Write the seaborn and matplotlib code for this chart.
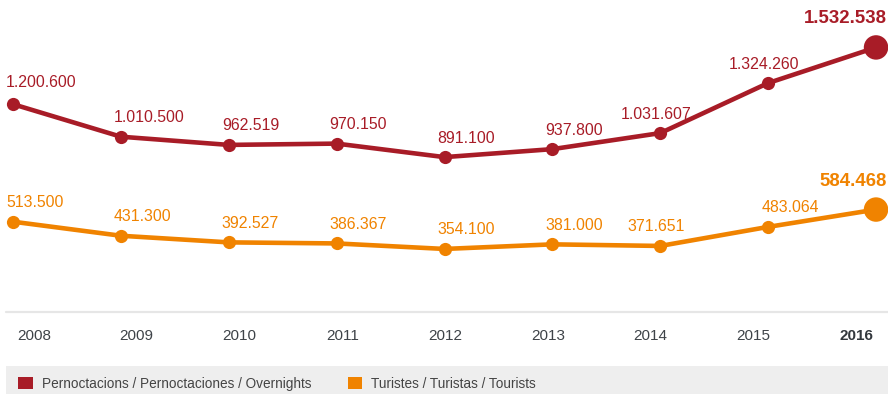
import matplotlib
matplotlib.use("Agg")
import matplotlib.pyplot as plt
from matplotlib.lines import Line2D
from matplotlib.patches import Patch, Rectangle
import seaborn as sns
import pandas as pd

# --- data -------------------------------------------------------------
years = ["2008", "2009", "2010", "2011", "2012", "2013", "2014", "2015", "2016"]
overnights = [1200600, 1010500, 962519, 970150, 891100, 937800, 1031607, 1324260, 1532538]
tourists = [513500, 431300, 392527, 386367, 354100, 381000, 371651, 483064, 584468]
series_names = ["Pernoctacions / Pernoctaciones / Overnights", "Turistes / Turistas / Tourists"]

# label alignment per point (left of point / centred / right-aligned)
overnight_align = ["L", "L", "L", "L", "L", "L", "C", "C", "R"]
tourist_align = ["L", "L", "L", "L", "L", "L", "C", "L", "R"]

RED = "#a81c27"
ORANGE = "#f08300"
W, H = 888, 394


def fmt(v):
    return f"{v:,}".replace(",", ".")


df = pd.DataFrame({
    "idx": list(range(len(years))) * 2,
    "value": overnights + tourists,
    "series": [series_names[0]] * len(years) + [series_names[1]] * len(years),
})

sns.set_theme(style="white")
plt.rcParams["font.family"] = ["Liberation Sans", "DejaVu Sans"]

fig = plt.figure(figsize=(W / 100, H / 100), dpi=100)

# main plotting area: from the top of the figure down to the baseline rule
ax = fig.add_axes([0, 82 / H, 1, 312 / H])
sns.lineplot(data=df, x="idx", y="value", hue="series",
             palette=[RED, ORANGE], lw=3.3, marker="o", markersize=9.5,
             markeredgewidth=0, ax=ax, legend=False, clip_on=False)
last = df[df["idx"] == len(years) - 1]
sns.scatterplot(data=last, x="idx", y="value", hue="series",
                palette=[RED, ORANGE], s=310, linewidth=0, ax=ax,
                legend=False, clip_on=False, zorder=5)
ax.set_xlim(-0.1205, 8.111)
ax.set_ylim(-14620, 1809941)
ax.set_axis_off()

# value labels
for vals, aligns, col in [(overnights, overnight_align, RED), (tourists, tourist_align, ORANGE)]:
    for i, (v, a) in enumerate(zip(vals, aligns)):
        if a == "R":
            ax.annotate(fmt(v), (i, v), xytext=(11, 24), textcoords="offset pixels",
                        ha="right", va="baseline", color=col, fontsize=13.4,
                        fontweight="bold", annotation_clip=False)
        else:
            dx, ha = (-7, "left") if a == "L" else (-4, "center")
            dy = 17 if (i == 0 and col == RED) else 14.5
            ax.annotate(fmt(v), (i, v), xytext=(dx, dy), textcoords="offset pixels",
                        ha=ha, va="baseline", color=col, fontsize=11.4,
                        annotation_clip=False)

# baseline rule
fig.add_artist(Line2D([6 / W, 1], [1 - 312 / H] * 2, transform=fig.transFigure,
                      color="#e6e6e6", lw=1.6))

# year labels row
ax_years = fig.add_axes([0, 0, 1, 1], frameon=False)
ax_years.set_xlim(-34 / 102.75, 8 + 32 / 102.75)
ax_years.set_ylim(H, 0)
ax_years.set_axis_off()
for i, yr in enumerate(years):
    bold = i == len(years) - 1
    ax_years.text(i, 340.5, yr, ha="center", va="baseline", fontsize=11,
                  color="#33383d" if bold else "#3e4348",
                  fontweight="bold" if bold else "normal")

# legend band
fig.add_artist(Rectangle((6 / W, 0), 1 - 6 / W, 28 / H, transform=fig.transFigure,
                         facecolor="#eeeeee", edgecolor="none", zorder=0))
handles = [Patch(facecolor=RED, edgecolor="none", label=series_names[0]),
           Patch(facecolor=ORANGE, edgecolor="none", label=series_names[1])]
leg = fig.legend(handles=handles, loc="center left",
                 bbox_to_anchor=(18 / W, 1 - 384 / H), ncol=2, frameon=False,
                 fontsize=9.8, handlelength=1.1, handleheight=0.95,
                 handletextpad=0.66, columnspacing=2.65, borderpad=0,
                 borderaxespad=0, labelcolor="#444444")

fig.savefig("out.png", dpi=100)
